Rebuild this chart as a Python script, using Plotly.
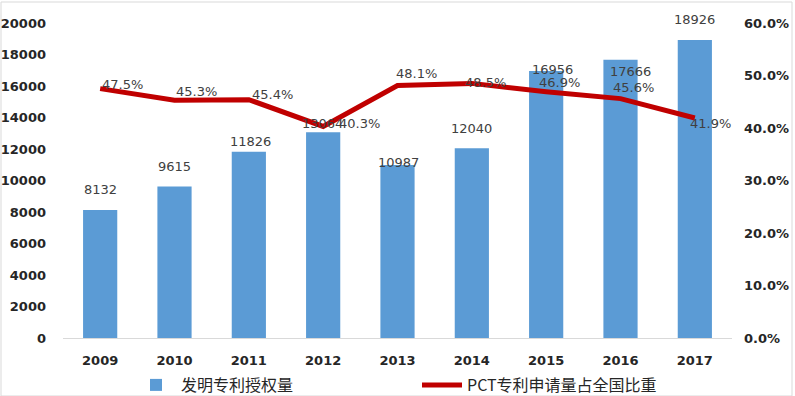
import plotly.graph_objects as go

# ---- data ----
years = ["2009", "2010", "2011", "2012", "2013", "2014", "2015", "2016", "2017"]
grants = [8132, 9615, 11826, 13064, 10987, 12040, 16956, 17666, 18926]
pct_share = [0.475, 0.453, 0.454, 0.403, 0.481, 0.485, 0.469, 0.456, 0.419]
left_ticks = [0, 2000, 4000, 6000, 8000, 10000, 12000, 14000, 16000, 18000, 20000]
right_ticks = [0, 0.1, 0.2, 0.3, 0.4, 0.5, 0.6]
bar_name = "发明专利授权量"
line_name = "PCT专利申请量占全国比重"

# ---- label offsets (pixels, style) ----
bar_dx = [0, 0, 2, -1, 1, 0, 6, 10, 0]
bar_dy = [20, 20, 10, 9, 2, 20, 1, -12, 20]
line_dx = [0, -1, 1, 14, -4, -9, -9, -10, -7]
line_dy = [4, 9, 5, 3, 12, 1, 9, 11, -5]

W, H = 795, 396
L, R, T, B = 63, 63, 23, 58
pw = W - L - R
ph = H - T - B

num_font = "Century Gothic, DejaVu Sans, Noto Sans CJK SC, sans-serif"
cjk_font = "Noto Sans CJK SC, DejaVu Sans, sans-serif"

fig = go.Figure()
fig.add_trace(go.Bar(
    x=years, y=grants, name=bar_name, marker_color="#5B9BD5",
    marker_line_width=0, width=0.46, yaxis="y", legend="legend",
))
fig.add_trace(go.Scatter(
    x=years, y=pct_share, name=line_name, mode="lines",
    line=dict(color="#C00000", width=5), yaxis="y2", legend="legend2",
))

annotations = []
for i, (yr, v) in enumerate(zip(years, grants)):
    annotations.append(dict(
        x=i, y=v, xref="x", yref="y", text=str(v), showarrow=False,
        xanchor="center", yanchor="middle", xshift=bar_dx[i], yshift=bar_dy[i],
        font=dict(family=num_font, size=13, color="#404040"),
    ))
for i, (yr, p) in enumerate(zip(years, pct_share)):
    annotations.append(dict(
        x=i, y=p, xref="x", yref="y2", text=f"{p*100:.1f}%", showarrow=False,
        xanchor="left", yanchor="middle", xshift=line_dx[i], yshift=line_dy[i],
        font=dict(family=num_font, size=13, color="#404040"),
    ))

legend_common = dict(
    orientation="h", xanchor="left", yanchor="top",
    font=dict(family=cjk_font, size=16, color="#262626"),
    bgcolor="rgba(0,0,0,0)", itemwidth=40,
)

fig.update_layout(
    width=W, height=H,
    margin=dict(l=L, r=R, t=T, b=B, pad=0, autoexpand=False),
    paper_bgcolor="white", plot_bgcolor="white",
    showlegend=True,
    legend=dict(x=(131 - L) / pw, y=(338 - 368) / ph, **legend_common),
    legend2=dict(x=(417 - L) / pw, y=(338 - 368) / ph, **legend_common),
    xaxis=dict(
        type="category", range=[-0.5, 8.5], showline=True, linecolor="#D9D9D9",
        linewidth=1, showgrid=False, ticks="", ticklabelstandoff=10, automargin=False,
        tickfont=dict(family=num_font, size=13, color="#262626", weight="bold"),
    ),
    yaxis=dict(
        range=[0, 20000], tickvals=left_ticks, tickformat="d", showgrid=False,
        zeroline=False, showline=False, ticks="", ticklabelstandoff=16, automargin=False,
        tickfont=dict(family=num_font, size=13, color="#262626", weight="bold"),
    ),
    yaxis2=dict(
        range=[0, 0.6], tickvals=right_ticks, tickformat=".1%", overlaying="y",
        side="right", showgrid=False, zeroline=False, showline=False, ticks="",
        ticklabelstandoff=11, automargin=False,
        tickfont=dict(family=num_font, size=13, color="#262626", weight="bold"),
    ),
    annotations=annotations,
)
fig.add_shape(type="rect", xref="paper", yref="paper",
              x0=(1 - L) / pw, x1=(792 - L) / pw,
              y0=(H - B - 396) / ph, y1=(H - B - 2) / ph,
              line=dict(color="#D9D9D9", width=1), layer="below")

fig.write_html("out.html", config={"displayModeBar": False},
               post_script="document.body.style.margin='0px';")
